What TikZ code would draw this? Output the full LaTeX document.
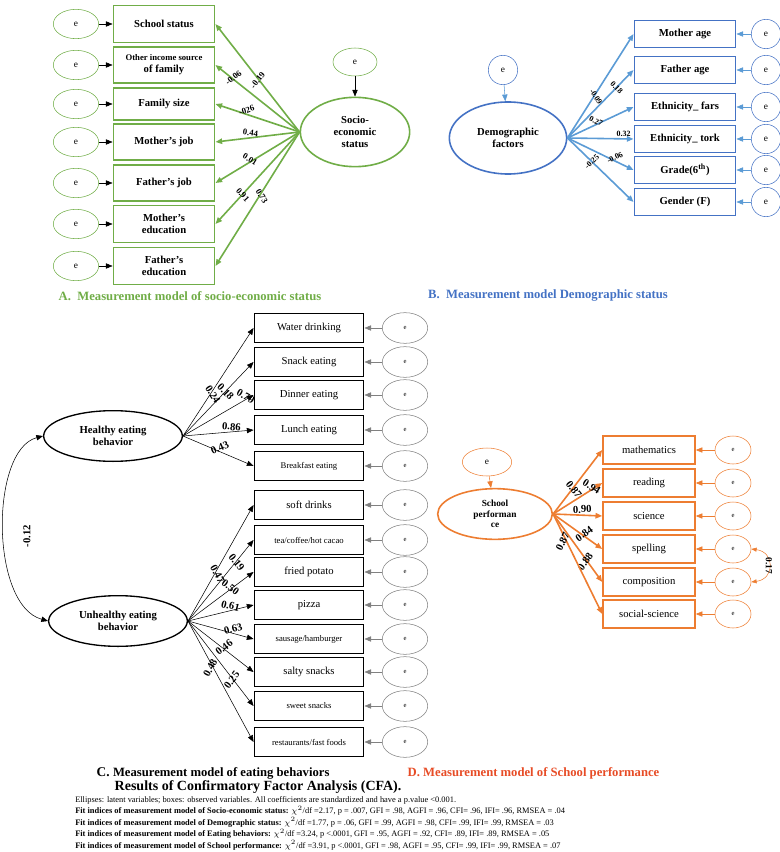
\documentclass[tikz,border=0pt]{standalone}
\usepackage{fontspec}
\setmainfont{Liberation Serif}
\usetikzlibrary{positioning}
\usetikzlibrary{shapes.geometric}
\usetikzlibrary{arrows.meta}
\definecolor{grnA}{RGB}{112,173,71}
\definecolor{bluB}{RGB}{68,114,196}
\definecolor{ltbluB}{RGB}{91,155,213}
\definecolor{orgD}{RGB}{237,125,49}
\definecolor{redD}{RGB}{231,76,38}
\tikzset{
  box/.style={draw, rectangle, inner sep=1pt, align=center, font=\fontsize{8}{9}\selectfont},
  lat/.style={draw, ellipse, inner sep=0pt, align=center, font=\bfseries\fontsize{8}{9}\selectfont},
  err/.style={draw, ellipse, inner sep=0pt, font=\fontsize{7}{8}\selectfont},
  coef/.style={font=\bfseries\fontsize{6.5}{7}\selectfont, sloped, inner sep=1pt},
  tip/.style={-{Triangle[length=5pt,width=4pt]}},
}
\begin{document}
\begin{tikzpicture}[x=0.75pt,y=0.75pt,yscale=-1,xscale=1]
\useasboundingbox (0,0) rectangle (780,852);

% A. socio-economic status
\node[lat, grnA, line width=1.2pt, text=black, minimum width=82pt, minimum height=52pt] (ses) at (355,132) {Socio-\\economic\\status};
\node[err, grnA, text=black, minimum width=33pt, minimum height=21pt] (sese) at (355,62) {e};
\draw[tip] (sese) -- (ses);
\foreach \i/\y/\h/\t/\c/\p in {1/24/28/{School status}/-0.19/0.45, 2/65/27/{\fontsize{6.5}{7.5}\selectfont Other income source\\of family}/-0.06/0.75, 3/104/24/{Family size}/-026/0.61, 4/142/27/{Mother's job}/0.44/0.59, 5/183/27/{Father's job}/0.01/0.62, 6/224/28/{Mother's\\education}/0.91/0.72, 7/266/28/{Father's\\education}/0.73/0.5}{
  \node[box, grnA, line width=1.2pt, text=black, font=\bfseries\fontsize{8}{9}\selectfont, minimum width=76pt, minimum height=\h pt] (a\i) at (164,\y) {\t};
  \node[err, grnA, text=black, minimum width=34pt, minimum height=22pt] (ae\i) at (76,\y) {e};
  \draw[tip] (ae\i) -- (a\i);
  \draw[tip, grnA, line width=1.2pt] (ses.west) -- (a\i.east) node[coef, text=black, pos=\p, above] {\c};
}
\node[grnA, font=\bfseries\fontsize{9.5}{11}\selectfont] (capA) at (190,296) {A.\ \ Measurement model of socio-economic status};

% B. demographic factors
\node[lat, bluB, line width=1.2pt, text=black, minimum width=88pt, minimum height=54pt] (dem) at (508,138) {Demographic\\factors};
\node[err, bluB, text=black, minimum width=22pt, minimum height=22pt] (deme) at (503,70) {e};
\draw[tip, ltbluB] (deme) -- (dem);
\foreach \i/\y/\t/\c/\p in {1/34/{Mother age}/-0.09/0.37, 2/70/{Father age}/0.18/0.69, 3/107/{Ethnicity\_ fars}/0.27/0.4, 4/139/{Ethnicity\_ tork}/0.32/0.85, 5/170/{Grade(6\textsuperscript{th})}/-0.06/0.75, 6/202/{Gender (F)}/-0.25/0.42}{
  \node[box, bluB, line width=1.2pt, text=black, font=\bfseries\fontsize{8}{9}\selectfont, minimum width=76pt, minimum height=20pt] (b\i) at (685,\y) {\t};
  \node[err, bluB, text=black, minimum width=22pt, minimum height=22pt] (be\i) at (766,\y) {e};
  \draw[tip, ltbluB] (be\i) -- (b\i);
  \draw[tip, ltbluB, line width=1.2pt] (dem.east) -- (b\i.west) node[coef, text=black, pos=\p, above, font=\bfseries\fontsize{6}{7}\selectfont] {\c};
}
\node[bluB, font=\bfseries\fontsize{9.5}{11}\selectfont] (capB) at (548,296) {B.\ \ Measurement model Demographic status};

% C. eating behaviors
\node[lat, line width=1pt, minimum width=104pt, minimum height=38pt] (heb) at (113,436) {Healthy eating\\behavior};
\node[lat, line width=1pt, minimum width=104pt, minimum height=38pt] (ueb) at (118,621) {Unhealthy eating\\behavior};
\draw[tip, {Triangle[length=5pt,width=4pt]}-{Triangle[length=5pt,width=4pt]}] (heb.west) .. controls (-10,450) and (-10,605) .. (ueb.west);
\node[coef, rotate=90, font=\bfseries\fontsize{8}{9}\selectfont] (cor) at (27,536) {-0.12};
\foreach \i/\y/\t/\c/\p in {1/328/{Water drinking}/0.24/0.36, 2/362/{Snack eating}/0.18/0.55, 3/395/{Dinner eating}/0.79/0.85, 4/430/{Lunch eating}/0.86/0.68, 5/466/{\fontsize{6.5}{7}\selectfont Breakfast eating}/0.43/0.55}{
  \node[box, line width=1.2pt, minimum width=82pt, minimum height=22pt] (h\i) at (309,\y) {\t};
  \node[err, gray, text=black, minimum width=34pt, minimum height=23pt] (he\i) at (405,\y) {\fontsize{5}{6}\selectfont e};
  \draw[tip, gray] (he\i) -- (h\i);
  \draw[tip] (heb.east) -- (h\i.west) node[coef, pos=\p, above, font=\bfseries\fontsize{8}{9}\selectfont] {\c};
}
\foreach \i/\y/\t/\c/\p in {1/505/{soft drinks}/0.47/0.38, 2/540/{\fontsize{6.5}{7}\selectfont tea/coffee/hot cacao}/0.19/0.68, 3/572/{fried potato}/0.50/0.6, 4/605/{pizza}/0.61/0.63, 5/639/{\fontsize{6.5}{7}\selectfont sausage/hamburger}/0.63/0.71, 6/672/{salty snacks}/0.46/0.6, 7/706/{\fontsize{6.5}{7}\selectfont sweet snacks}/0.25/0.73, 8/742/{\fontsize{6.5}{7}\selectfont restaurants/fast foods}/0.48/0.41}{
  \node[box, line width=1.2pt, minimum width=82pt, minimum height=22pt] (u\i) at (309,\y) {\t};
  \node[err, gray, text=black, minimum width=34pt, minimum height=23pt] (ue\i) at (405,\y) {\fontsize{5}{6}\selectfont e};
  \draw[tip, gray] (ue\i) -- (u\i);
  \draw[tip] (ueb.east) -- (u\i.west) node[coef, pos=\p, above, font=\bfseries\fontsize{8}{9}\selectfont] {\c};
}
\node[font=\bfseries\fontsize{10}{11}\selectfont, anchor=west] (capC) at (92,773) {C. \fontsize{9.5}{11}\selectfont Measurement model of eating behaviors};

% D. school performance
\node[lat, orgD, line width=1.2pt, text=black, minimum width=86pt, minimum height=38pt, font=\bfseries\fontsize{7}{8}\selectfont] (sp) at (495,514) {School\\performan\\ce};
\node[err, orgD, text=black, minimum width=37pt, minimum height=21pt] (spe) at (487,462) {e};
\draw[tip, orgD] (spe) -- (sp);
\foreach \i/\y/\t/\c/\p in {1/450/mathematics/0.87/0.33, 2/483/reading/0.94/0.72, 3/516/science/0.90/0.6, 4/549/spelling/0.84/0.7, 5/582/composition/0.88/0.75, 6/614/social-science/0.87/0.3}{
  \node[box, orgD, line width=1.2pt, text=black, minimum width=69pt, minimum height=21pt] (d\i) at (649,\y) {\t};
  \node[err, orgD, text=black, minimum width=27pt, minimum height=21pt] (de\i) at (733,\y) {\fontsize{5}{6}\selectfont e};
  \draw[tip, orgD] (de\i) -- (d\i);
  \draw[tip, orgD, line width=1.2pt] (sp.east) -- (d\i.west) node[coef, text=black, pos=\p, above, font=\bfseries\fontsize{8}{9}\selectfont] {\c};
}
\draw[tip, orgD, {Triangle[length=4pt,width=3pt]}-{Triangle[length=4pt,width=3pt]}] (de4.east) .. controls (775,552) and (775,579) .. (de5.east);
\node[coef, rotate=-90, font=\bfseries\fontsize{7}{8}\selectfont] (spc) at (769,566) {0.17};
\node[redD, font=\bfseries\fontsize{9.5}{11}\selectfont, anchor=west] (capD) at (403,773) {D. Measurement model of School performance};

% results
\node[font=\bfseries\fontsize{10.5}{12}\selectfont, anchor=west] (res) at (110,787) {Results of Confirmatory Factor Analysis (CFA).};
\node[anchor=north west, align=left, inner sep=0pt, font=\fontsize{6.3}{8.6}\selectfont] (fit) at (75,796) {Ellipses: latent variables; boxes: observed variables. All coefficients are standardized and have a p.value <0.001.\\
\textbf{Fit indices of measurement model of Socio-economic status:} $\chi^2$/df =2.17, p = .007, GFI = .98, AGFI = .96, CFI= .96, IFI= .96, RMSEA = .04\\
\textbf{Fit indices of measurement model of Demographic status:} $\chi^2$/df =1.77, p = .06, GFI = .99, AGFI = .98, CFI= .99, IFI= .99, RMSEA = .03\\
\textbf{Fit indices of measurement model of Eating behaviors:} $\chi^2$/df =3.24, p <.0001, GFI = .95, AGFI = .92, CFI= .89, IFI= .89, RMSEA = .05\\
\textbf{Fit indices of measurement model of School performance:} $\chi^2$/df =3.91, p <.0001, GFI = .98, AGFI = .95, CFI= .99, IFI= .99, RMSEA = .07};
\end{tikzpicture}
\end{document}
